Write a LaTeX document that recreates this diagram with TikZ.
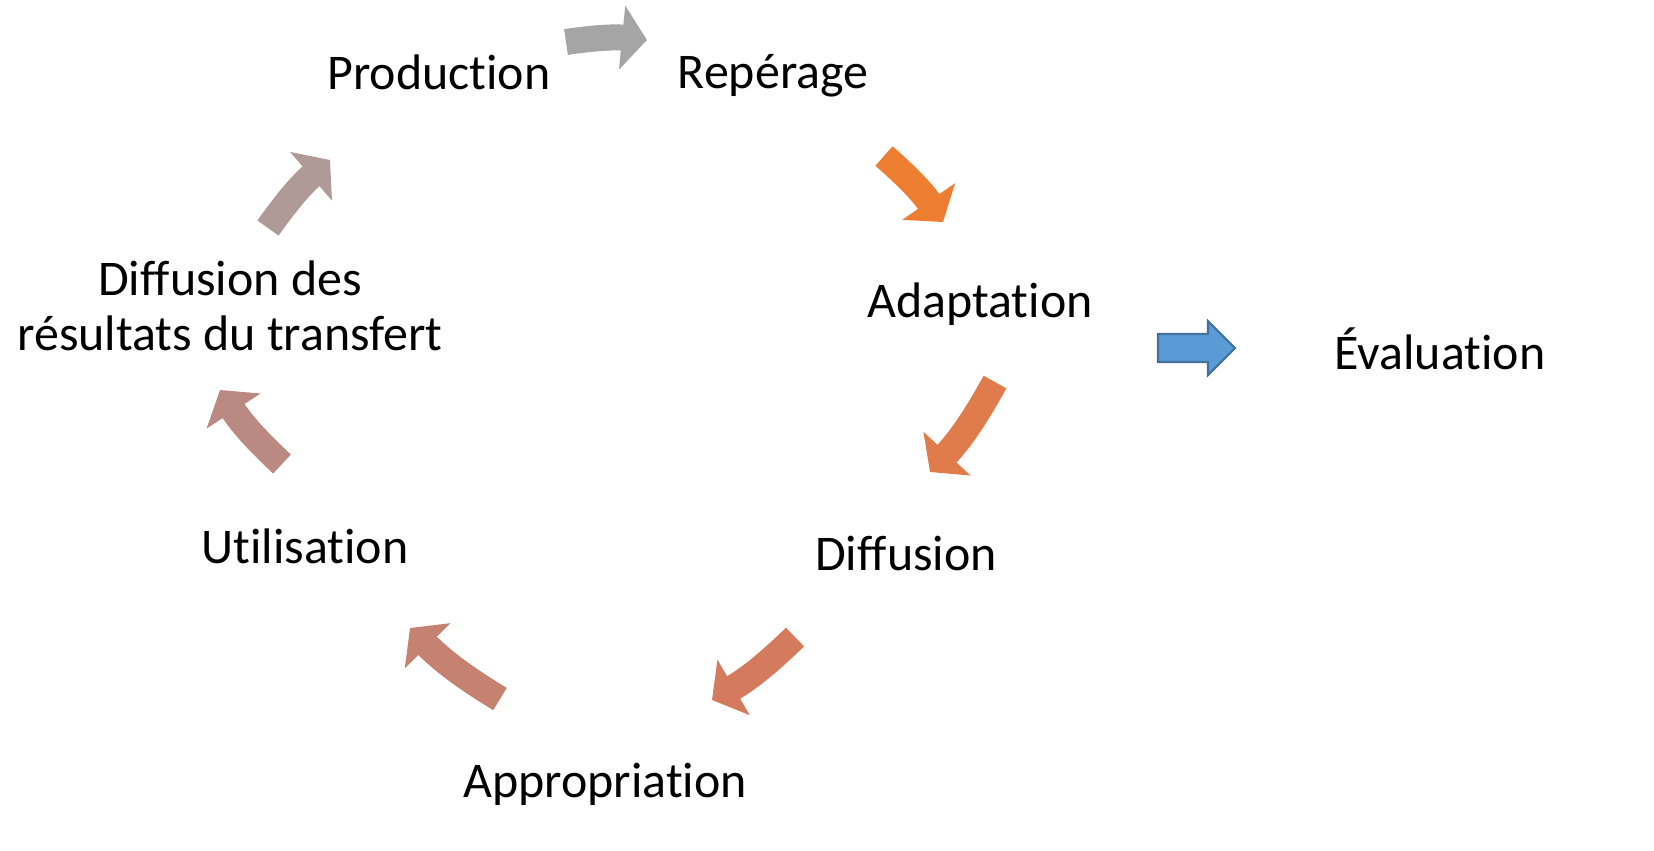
\documentclass[tikz,border=0pt]{standalone}
\usepackage{fontspec}
\setmainfont{Carlito}[Ligatures={NoCommon}]
\usetikzlibrary{arrows.meta}
\definecolor{arrgray}{HTML}{A5A5A5}
\definecolor{arrorange}{HTML}{ED7D31}
\definecolor{arrthree}{HTML}{E07B4B}
\definecolor{arrfour}{HTML}{D47B5D}
\definecolor{arrfive}{HTML}{C58270}
\definecolor{arrsix}{HTML}{BA8A82}
\definecolor{arrseven}{HTML}{B09A98}
\definecolor{evalfill}{HTML}{5B9BD5}
\definecolor{evaldraw}{HTML}{41719C}
\begin{document}
\begin{tikzpicture}[x=0.01cm, y=-0.01cm, font=\fontsize{14.2pt}{15.6pt}\selectfont,
    cyc/.style={line width=0.26cm, -{Triangle[width=0.63cm, length=0.25cm]}},
    lbl/.style={anchor=base, inner sep=0pt}]
    \useasboundingbox (0,0) rectangle (1654,850);
    % steps of the cycle
    \node[lbl] (prod) at (439,89) {Production};
    \node[lbl] (rep) at (773,88) {Repérage};
    \node[lbl] (adapt) at (980,317) {Adaptation};
    \node[lbl] (diff) at (906,570) {Diffusion};
    \node[lbl] (appr) at (605,797) {Appropriation};
    \node[lbl] (util) at (305,563) {Utilisation};
    \node[align=center, inner sep=0pt] (diffres) at (230,306) {Diffusion des\\résultats du transfert};
    \node[lbl] (eval) at (1440,369) {Évaluation};
    % arrows between the steps
    \coordinate (a1s) at (566,42);  \coordinate (a1e) at (647,40);
    \coordinate (a2s) at (884,156); \coordinate (a2e) at (943,222);
    \coordinate (a3s) at (995,382); \coordinate (a3e) at (930,472);
    \coordinate (a4s) at (795,637); \coordinate (a4e) at (712,700);
    \coordinate (a5s) at (500,699); \coordinate (a5e) at (410,628);
    \coordinate (a6s) at (282,464); \coordinate (a6e) at (220,390);
    \coordinate (a7s) at (268,228); \coordinate (a7e) at (330,160);
    \draw[cyc, arrgray] (a1s) to[bend left=7] (a1e);
    \draw[cyc, arrorange] (a2s) to[bend left=7] (a2e);
    \draw[cyc, arrthree] (a3s) to[bend left=7] (a3e);
    \draw[cyc, arrfour] (a4s) to[bend left=7] (a4e);
    \draw[cyc, arrfive] (a5s) to[bend left=7] (a5e);
    \draw[cyc, arrsix] (a6s) to[bend left=7] (a6e);
    \draw[cyc, arrseven] (a7s) to[bend left=7] (a7e);
    % arrow towards the evaluation
    \coordinate (ev) at (1158,348);
    \draw[fill=evalfill, draw=evaldraw, line width=0.6pt] (ev) ++(0,-14) -- ++(50,0) -- ++(0,-13)
        -- ++(27,27) -- ++(-27,27) -- ++(0,-13) -- ++(-50,0) -- cycle;
\end{tikzpicture}
\end{document}
